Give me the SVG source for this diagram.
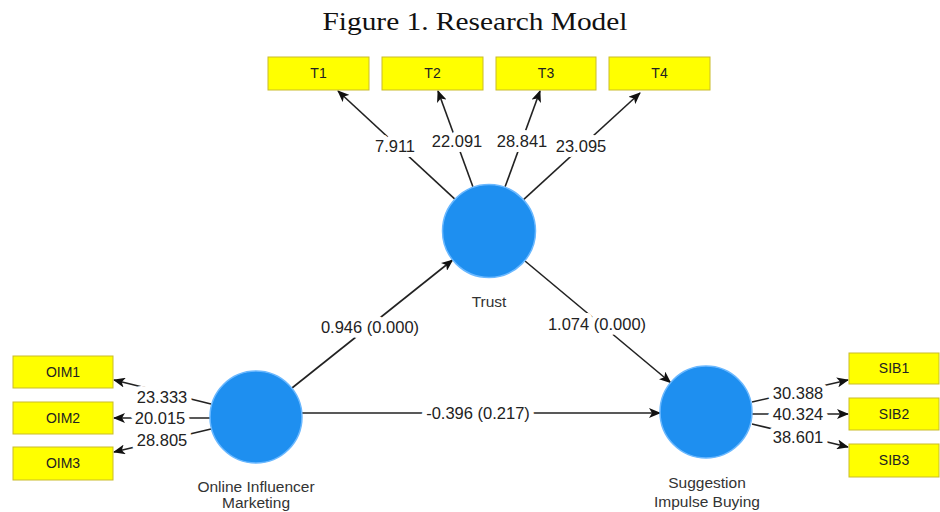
<svg xmlns="http://www.w3.org/2000/svg" width="940" height="512" viewBox="0 0 940 512">
<defs>
<marker id="arr" viewBox="0 0 12 10" refX="11" refY="5" markerWidth="12" markerHeight="10" markerUnits="userSpaceOnUse" orient="auto">
<path d="M0,0 L12,5 L0,10 L3,5 Z" fill="#111"/>
</marker>
</defs>
<style>
.box{fill:#ffff00;stroke:#c9bc2a;stroke-width:1}
.lv{fill:#1e8ff0;stroke:#6ab8ff;stroke-width:1.5}
.bt{font-family:"Liberation Sans",Arial,sans-serif;font-size:14px;fill:#222;text-anchor:middle}
.nl{font-family:"Liberation Sans",Arial,sans-serif;font-size:15.5px;fill:#333;text-anchor:middle}
.num{font-family:"Liberation Sans",Arial,sans-serif;font-size:16.5px;fill:#222;text-anchor:middle;stroke:#fff;stroke-width:10;paint-order:stroke;stroke-linejoin:round}
.ln{stroke:#222;stroke-width:1.6;fill:none;marker-end:url(#arr)}
</style>
<rect width="940" height="512" fill="#fff"/>
<text x="475" y="30" font-family="'Liberation Serif','Times New Roman',serif" font-size="26" fill="#111" text-anchor="middle" textLength="305" lengthAdjust="spacingAndGlyphs">Figure 1. Research Model</text>

<g id="connectors">
<line class="ln" x1="454.6" y1="198.9" x2="338" y2="91"/>
<line class="ln" x1="472.9" y1="186.8" x2="438" y2="91"/>
<line class="ln" x1="505.1" y1="186.8" x2="540" y2="91"/>
<line class="ln" x1="523.8" y1="199.4" x2="640" y2="93"/>
<line class="ln" x1="211" y1="404" x2="114" y2="380"/>
<line class="ln" x1="210" y1="418" x2="114" y2="418"/>
<line class="ln" x1="211" y1="429" x2="114" y2="452"/>
<line class="ln" x1="752" y1="402" x2="848" y2="380"/>
<line class="ln" x1="752" y1="414" x2="848" y2="414"/>
<line class="ln" x1="752" y1="424" x2="848" y2="447"/>
<line class="ln" x1="292" y1="388" x2="452.5" y2="260"/>
<line class="ln" x1="525" y1="261" x2="670.5" y2="382.5"/>
<line class="ln" x1="302" y1="413" x2="660" y2="413"/>
<text class="num" x="395" y="152">7.911</text>
<text class="num" x="457" y="147">22.091</text>
<text class="num" x="522" y="147">28.841</text>
<text class="num" x="581" y="152">23.095</text>
<text class="num" x="162" y="403">23.333</text>
<text class="num" x="160" y="424">20.015</text>
<text class="num" x="162" y="446">28.805</text>
<text class="num" x="798" y="399">30.388</text>
<text class="num" x="798" y="420">40.324</text>
<text class="num" x="798" y="443">38.601</text>
<text class="num" x="370" y="333">0.946 (0.000)</text>
<text class="num" x="597" y="330">1.074 (0.000)</text>
<text class="num" x="478" y="419">-0.396 (0.217)</text>
</g>

<g id="T1"><rect class="box" x="268" y="57" width="101" height="33"/><text class="bt" x="318.5" y="78">T1</text></g>
<g id="T2"><rect class="box" x="382" y="57" width="101" height="33"/><text class="bt" x="432.5" y="78">T2</text></g>
<g id="T3"><rect class="box" x="496" y="57" width="100" height="33"/><text class="bt" x="546" y="78">T3</text></g>
<g id="T4"><rect class="box" x="609" y="57" width="101" height="33"/><text class="bt" x="659.5" y="78">T4</text></g>

<g id="OIM1"><rect class="box" x="13" y="356" width="100" height="32"/><text class="bt" x="63" y="377">OIM1</text></g>
<g id="OIM2"><rect class="box" x="13" y="402" width="100" height="32"/><text class="bt" x="63" y="423">OIM2</text></g>
<g id="OIM3"><rect class="box" x="13" y="447" width="100" height="33"/><text class="bt" x="63" y="468">OIM3</text></g>

<g id="SIB1"><rect class="box" x="849" y="353" width="90" height="31"/><text class="bt" x="894" y="373">SIB1</text></g>
<g id="SIB2"><rect class="box" x="849" y="398" width="90" height="32"/><text class="bt" x="894" y="419">SIB2</text></g>
<g id="SIB3"><rect class="box" x="849" y="444" width="90" height="33"/><text class="bt" x="894" y="465">SIB3</text></g>

<g id="Trust"><circle class="lv" cx="489" cy="231" r="46.5"/><text class="nl" x="489" y="307">Trust</text></g>
<g id="OIM"><circle class="lv" cx="256" cy="417" r="46"/><text class="nl" x="256" y="492">Online Influencer</text><text class="nl" x="256" y="508">Marketing</text></g>
<g id="SIB"><circle class="lv" cx="706" cy="412" r="46"/><text class="nl" x="707" y="488">Suggestion</text><text class="nl" x="707" y="507">Impulse Buying</text></g>
</svg>
